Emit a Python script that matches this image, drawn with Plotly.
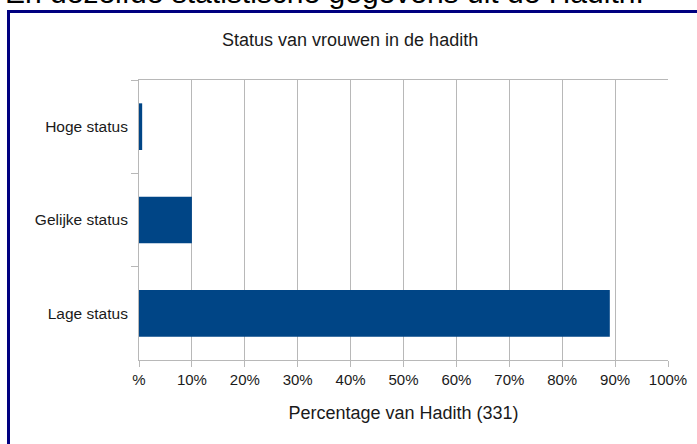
import plotly.graph_objects as go

categories = ["Hoge status", "Gelijke status", "Lage status"]
percentages = [0.6, 10.0, 89.0]
tick_values = [0, 10, 20, 30, 40, 50, 60, 70, 80, 90, 100]
tick_labels = ["%", "10%", "20%", "30%", "40%", "50%", "60%", "70%", "80%", "90%", "100%"]

W, H = 697, 444
L, R, T, B = 139, 29, 80, 84
pw, ph = W - L - R, H - T - B

def px(x):
    return (x - L) / pw

def py(y):
    return (H - B - y) / ph

fig = go.Figure(go.Bar(
    y=categories, x=percentages, orientation="h",
    marker=dict(color="#004586", line=dict(width=0)),
    width=0.5,
))

fig.update_layout(
    width=W, height=H,
    margin=dict(l=L, r=R, t=T, b=B, autoexpand=False),
    paper_bgcolor="white", plot_bgcolor="white",
    showlegend=False,
    font=dict(family="Liberation Sans, Arial, sans-serif", color="#1a1a1a"),
    xaxis=dict(
        range=[0, 100], tickvals=tick_values, ticktext=tick_labels,
        showgrid=True, gridcolor="#b8b8b8", gridwidth=1,
        showline=True, linecolor="#b8b8b8", linewidth=1, mirror=True,
        ticks="outside", ticklen=6, tickcolor="#b8b8b8",
        tickfont=dict(size=15),
        zeroline=False, automargin=False,
        title=dict(text="Percentage van Hadith (331)", font=dict(size=18), standoff=19),
    ),
    yaxis=dict(
        autorange="reversed",
        showline=True, linecolor="#b8b8b8", linewidth=1,
        ticks="outside", ticklen=7, tickcolor="#b8b8b8", tickson="boundaries",
        ticklabelstandoff=7,
        tickfont=dict(size=15.5), showgrid=False, automargin=False,
    ),
    annotations=[
        dict(text="Status van vrouwen in de hadith", xref="paper", yref="paper",
             x=px(350), y=py(40), xanchor="center", yanchor="middle",
             showarrow=False, font=dict(size=18)),
        dict(text="En dezelfde statistische gegevens uit de Hadith.", xref="paper", yref="paper",
             x=px(3), y=py(-8), xanchor="left", yanchor="middle",
             showarrow=False, font=dict(size=30, color="black")),
    ],
    shapes=[
        dict(type="rect", xref="paper", yref="paper",
             x0=px(8.5), x1=px(720), y0=py(11.5), y1=py(470),
             line=dict(color="#000080", width=3), fillcolor="rgba(0,0,0,0)", layer="above"),
    ],
)

fig.write_html("out.html", config={"displayModeBar": False},
               post_script="document.body.style.margin='0';")
